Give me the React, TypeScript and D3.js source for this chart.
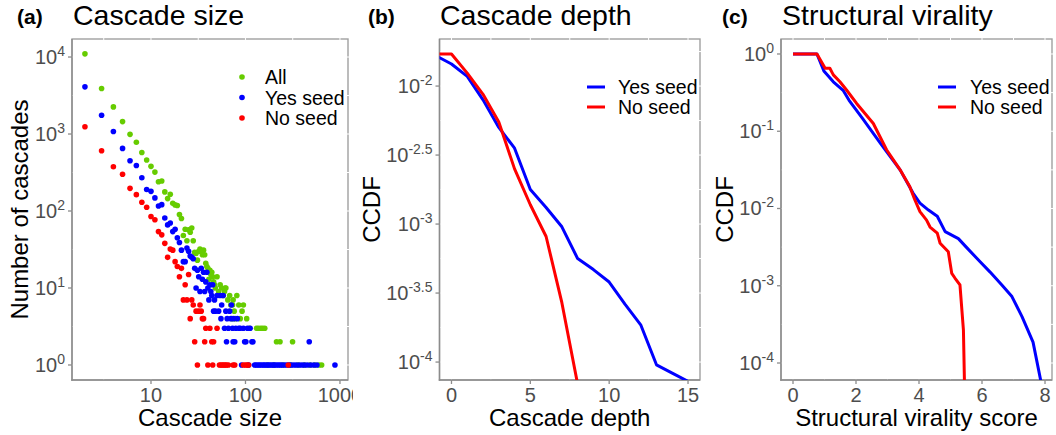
import React from "react";
import * as d3 from "d3";

// ---------- Panel (a): cascade size distribution ----------
const SIZE_ALL = [2,3,4,5,6,7,8,9,10,11,12,13,14,15,16,17,18,19,20,21,22,23,24,25,26,27,28,29,30,31,32,33,34,35,36,37,38,39,40,41,42,43,44,45,46,47,48,
  50,52,54,56,58,60,61,62,65,68,70,72,73,74,76,78,81,85,88,92,95,103,110,131,137,145,152,160,170,200,213,232,250,300,315,360,420,480,540,600,640];
const COUNT_ALL = [11000,3900,2250,1450,990,780,575,460,380,320,240,245,177,145,165,126,120,118,90,80,48,58,41,57,53,60,41,29,28,23,30,32,30,27,31,27,21,19,18,13,17,15,16,14,12,11,10,
  14,9,11,10,8,9,10,10,7,8,6,4,6,7,5,4,8,6,4,5,6,4,3,3,3,3,3,3,1,1,2,2,1,1,2,1,1,1,1,1,1];

const SIZE_YES = [2,3,4,5,6,7,8,9,10,11,12,13,14,15,16,17,18,19,20,21,22,23,24,25,26,27,28,29,30,31,32,33,34,35,36,37,38,39,40,41,42,43,44,45,46,47,48,
  50,52,54,55,56,58,60,62,63,64,66,68,70,71,73,74,75,77,79,82,85,88,91,95,98,101,105,108,112,117,120,
  125,130,136,142,148,155,160,168,175,182,190,198,205,215,225,235,245,260,275,290,305,325,345,370,395,420,450,473,490,530,570,885];
const COUNT_YES = [4100,1750,1080,650,450,390,270,190,180,148,116,121,81,66,70,54,58,45,39,31,22,22,33,30,26,25,24,18,10,17,14,9,18,13,16,9,12,16,10,7,11,9,8,11,5,7,5,
  8,5,8,4,6,8,3,5,2,4,3,5,4,6,3,2,4,2,3,4,3,3,1,3,2,2,3,1,3,2,2,
  1,1,1,1,1,1,1,1,1,1,1,1,1,1,1,1,1,1,1,1,1,1,1,1,1,1,1,2,1,1,1,1];

const SIZE_NO = [2,3,4,5,6,7,8,9,10,11,12,13,14,15,16,17,18,19,20,21,22,23,24,25,26,27,28,29,30,31,32,33,34,35,36,37,38,40,42,44,45,46,50,53,55,57,59,61,63,66,74,77,95,100,104,108,284];
const COUNT_NO = [1240,605,375,300,197,163,130,112,85,77,54,49,38,25,32,31,22,19,14,18,7,11,7,15,4,7,6,2,5,1,5,6,5,4,4,2,3,1,3,2,1,2,3,1,1,1,1,1,1,1,1,1,1,1,1,1,1];

// ---------- Panel (b): cascade depth CCDF (log10 values) ----------
const DEPTH_YES = [-1,0,1,2,3,4,5,6,7,8,9,10,11,12,13,14,15];
const DEPTH_YES_LOG = [-1.78,-1.84,-1.93,-2.1,-2.3,-2.45,-2.75,-2.88,-3.02,-3.25,-3.33,-3.42,-3.58,-3.73,-4.02,-4.08,-4.14];
const DEPTH_NO = [-1,0,1,2,3,4,5,6,7,8];
const DEPTH_NO_LOG = [-1.768,-1.768,-1.906,-2.06,-2.26,-2.6,-2.86,-3.09,-3.57,-4.16];

// ---------- Panel (c): structural virality CCDF (log10 values) ----------
const SV_YES = [0,0.76,0.98,1.28,1.59,1.78,2.2,2.8,3.4,3.81,4.03,4.3,4.58,4.83,5.25,5.5,5.94,6.25,6.63,6.95,7.27,7.62,7.9];
const SV_YES_LOG = [0,0,-0.22,-0.36,-0.47,-0.6,-0.83,-1.17,-1.5,-1.8,-1.93,-2.02,-2.1,-2.3,-2.39,-2.5,-2.69,-2.82,-2.99,-3.14,-3.4,-3.73,-4.3];
const SV_NO = [0,0.76,1.02,1.17,1.28,1.49,1.7,2.02,2.55,2.97,3.4,3.71,3.87,4.03,4.24,4.35,4.58,4.67,4.93,5.04,5.14,5.3,5.41,5.45];
const SV_NO_LOG = [0,0,-0.185,-0.185,-0.27,-0.36,-0.466,-0.64,-0.9,-1.24,-1.5,-1.72,-1.89,-2.04,-2.15,-2.24,-2.32,-2.45,-2.56,-2.84,-2.9,-2.99,-3.57,-4.4];

// ---------- Axis ticks ----------
const A_X_TICKS = [10, 100, 1000];
const A_X_MINOR = [Math.pow(10, 0.5), Math.pow(10, 1.5), Math.pow(10, 2.5)];
const A_Y_EXP = [0, 1, 2, 3, 4];
const A_Y_MINOR_EXP = [0.5, 1.5, 2.5, 3.5];
const B_X_TICKS = [0, 5, 10, 15];
const B_X_MINOR = [2.5, 7.5, 12.5];
const B_Y_EXP = [-2, -2.5, -3, -3.5, -4];
const B_Y_MINOR_EXP = [-1.75, -2.25, -2.75, -3.25, -3.75];
const C_X_TICKS = [0, 2, 4, 6, 8];
const C_X_MINOR = [1, 3, 5, 7];
const C_Y_EXP = [0, -1, -2, -3, -4];
const C_Y_MINOR_EXP = [-0.5, -1.5, -2.5, -3.5];

const GREEN = "#66CC00";
const BLUE = "#0000FF";
const RED = "#FF0000";
const FONT = "'Liberation Sans', Arial, Helvetica, sans-serif";
const TICK_COL = "#4D4D4D";
const AXIS_COL = "#8C8C8C";
const BORDER_COL = "#A0A0A0";

const TOP = 39;
const BOTTOM = 380;

type PanelProps = {
  id: string;
  left: number;
  right: number;
  xScale: (v: number) => number;
  yScale: (v: number) => number;
  xTicks: number[];
  xTickLabels: string[];
  xMinor: number[];
  yExp: number[];
  yMinorExp: number[];
  tag: string;
  title: string;
  titleX: number;
  tagX: number;
  xLabel: string;
  yLabel: string;
  yLabelX: number;
  children?: React.ReactNode;
};

function Panel(p: PanelProps) {
  const { left, right } = p;
  const cx = (left + right) / 2;
  const cy = (TOP + BOTTOM) / 2;
  return (
    <g>
      <defs>
        <clipPath id={p.id + "-clip"}>
          <rect x={left} y={TOP} width={right - left} height={BOTTOM - TOP} />
        </clipPath>
      </defs>
      <rect x={left} y={TOP} width={right - left} height={BOTTOM - TOP} fill="none" stroke={BORDER_COL} strokeWidth={1.4} />
      {p.xTicks.concat(p.xMinor).map((v, i) => (
        <line key={"gx" + i} x1={p.xScale(v)} x2={p.xScale(v)} y1={TOP - 1} y2={BOTTOM} stroke="#fff" strokeWidth={1} />
      ))}
      {p.yExp.concat(p.yMinorExp).map((e, i) => (
        <line key={"gy" + i} x1={left} x2={right + 1} y1={p.yScale(Math.pow(10, e))} y2={p.yScale(Math.pow(10, e))} stroke="#fff" strokeWidth={1} />
      ))}
      <line x1={left} x2={left} y1={TOP} y2={BOTTOM + 0.7} stroke={AXIS_COL} strokeWidth={1.4} />
      <line x1={left - 0.7} x2={right} y1={BOTTOM} y2={BOTTOM} stroke={AXIS_COL} strokeWidth={1.4} />
      {p.xTicks.map((v, i) => (
        <g key={"xt" + i}>
          <line x1={p.xScale(v)} x2={p.xScale(v)} y1={BOTTOM} y2={BOTTOM + 4} stroke={AXIS_COL} strokeWidth={1.3} />
          <text x={p.xScale(v)} y={402} textAnchor="middle" fontSize={20} fill={TICK_COL} fontFamily={FONT}>
            {p.xTickLabels[i]}
          </text>
        </g>
      ))}
      {p.yExp.map((e, i) => {
        const y = p.yScale(Math.pow(10, e));
        return (
          <g key={"yt" + i}>
            <line x1={left - 4} x2={left} y1={y} y2={y} stroke={AXIS_COL} strokeWidth={1.3} />
            <text x={left - 7} y={y + 7} textAnchor="end" fontSize={20} fill={TICK_COL} fontFamily={FONT}>
              <tspan>10</tspan>
              <tspan dy={-8} fontSize={14}>{String(e)}</tspan>
            </text>
          </g>
        );
      })}
      <text x={p.tagX} y={24} fontSize={21} fontWeight="bold" fontFamily={FONT} fill="#000">{p.tag}</text>
      <text x={p.titleX} y={25} fontSize={28.5} fontFamily={FONT} fill="#000">{p.title}</text>
      <text x={cx} y={426} textAnchor="middle" fontSize={24} fontFamily={FONT} fill="#000">{p.xLabel}</text>
      <text transform={`translate(${p.yLabelX},${cy}) rotate(-90)`} textAnchor="middle" fontSize={24} fontFamily={FONT} fill="#000">
        {p.yLabel}
      </text>
      <g clipPath={`url(#${p.id}-clip)`}>{p.children}</g>
    </g>
  );
}

export default function App() {
  const ax = d3.scaleLog().domain([Math.pow(10, 0.164), Math.pow(10, 3.085)]).range([72, 348]);
  const ay = d3.scaleLog().domain([Math.pow(10, -0.195), Math.pow(10, 4.234)]).range([BOTTOM, TOP]);
  const bx = d3.scaleLinear().domain([-0.76, 15.76]).range([439.5, 700]);
  const by = d3.scaleLog().domain([Math.pow(10, -4.13), Math.pow(10, -1.659)]).range([BOTTOM, TOP]);
  const cxs = d3.scaleLinear().domain([-0.381, 8.222]).range([781, 1052]);
  const cys = d3.scaleLog().domain([Math.pow(10, -4.22), Math.pow(10, 0.194)]).range([BOTTOM, TOP]);

  const series = [
    { sizes: SIZE_ALL, counts: COUNT_ALL, color: GREEN, name: "All" },
    { sizes: SIZE_YES, counts: COUNT_YES, color: BLUE, name: "Yes seed" },
    { sizes: SIZE_NO, counts: COUNT_NO, color: RED, name: "No seed" },
  ];

  const lineB = d3.line<[number, number]>().x((d) => bx(d[0])).y((d) => by(Math.pow(10, d[1])));
  const lineC = d3.line<[number, number]>().x((d) => cxs(d[0])).y((d) => cys(Math.pow(10, d[1])));
  const zip = (a: number[], b: number[]) => a.map((v, i) => [v, b[i]] as [number, number]);

  const legendLines = [
    { name: "Yes seed", color: BLUE },
    { name: "No seed", color: RED },
  ];

  return (
    <svg width={1056} height={435} style={{ position: "absolute", left: 0, top: 0, background: "#fff" }} fontFamily={FONT}>
      <rect x={0} y={0} width={1056} height={435} fill="#fff" />
      <defs>
        <clipPath id="panelA-outer">
          <rect x={0} y={0} width={353} height={435} />
        </clipPath>
      </defs>
      <g clipPath="url(#panelA-outer)">
        <Panel
          id="pa" left={72} right={348} xScale={ax} yScale={ay}
          xTicks={A_X_TICKS} xTickLabels={A_X_TICKS.map(String)} xMinor={A_X_MINOR}
          yExp={A_Y_EXP} yMinorExp={A_Y_MINOR_EXP}
          tag="(a)" tagX={17} title="Cascade size" titleX={73}
          xLabel="Cascade size" yLabel="Number of cascades" yLabelX={28}
        >
          {series.map((s) => (
            <g key={s.name}>
              {s.sizes.map((v, i) => (
                <circle key={i} cx={ax(v)} cy={ay(s.counts[i])} r={2.8} fill={s.color} />
              ))}
            </g>
          ))}
        </Panel>
        {series.map((s, i) => (
          <g key={"lg" + i}>
            <circle cx={242} cy={77 + i * 20.5} r={2.8} fill={s.color} />
            <text x={265} y={77 + i * 20.5 + 7} fontSize={19.5} fontFamily={FONT} fill="#000">{s.name}</text>
          </g>
        ))}
      </g>

      <Panel
        id="pb" left={439.5} right={700} xScale={bx} yScale={by}
        xTicks={B_X_TICKS} xTickLabels={B_X_TICKS.map(String)} xMinor={B_X_MINOR}
        yExp={B_Y_EXP} yMinorExp={B_Y_MINOR_EXP}
        tag="(b)" tagX={368} title="Cascade depth" titleX={440}
        xLabel="Cascade depth" yLabel="CCDF" yLabelX={380}
      >
        <path d={lineB(zip(DEPTH_YES, DEPTH_YES_LOG)) || ""} fill="none" stroke={BLUE} strokeWidth={3} strokeLinejoin="round" />
        <path d={lineB(zip(DEPTH_NO, DEPTH_NO_LOG)) || ""} fill="none" stroke={RED} strokeWidth={3} strokeLinejoin="round" />
      </Panel>
      {legendLines.map((l, i) => (
        <g key={"lb" + i}>
          <line x1={587} x2={605} y1={87 + i * 20} y2={87 + i * 20} stroke={l.color} strokeWidth={3} />
          <text x={618} y={87 + i * 20 + 7} fontSize={19.5} fontFamily={FONT} fill="#000">{l.name}</text>
        </g>
      ))}

      <Panel
        id="pc" left={781} right={1052} xScale={cxs} yScale={cys}
        xTicks={C_X_TICKS} xTickLabels={C_X_TICKS.map(String)} xMinor={C_X_MINOR}
        yExp={C_Y_EXP} yMinorExp={C_Y_MINOR_EXP}
        tag="(c)" tagX={722} title="Structural virality" titleX={782}
        xLabel="Structural virality score" yLabel="CCDF" yLabelX={733}
      >
        <path d={lineC(zip(SV_YES, SV_YES_LOG)) || ""} fill="none" stroke={BLUE} strokeWidth={3} strokeLinejoin="round" />
        <path d={lineC(zip(SV_NO, SV_NO_LOG)) || ""} fill="none" stroke={RED} strokeWidth={3} strokeLinejoin="round" />
      </Panel>
      {legendLines.map((l, i) => (
        <g key={"lc" + i}>
          <line x1={938} x2={956} y1={87 + i * 20} y2={87 + i * 20} stroke={l.color} strokeWidth={3} />
          <text x={970} y={87 + i * 20 + 7} fontSize={19.5} fontFamily={FONT} fill="#000">{l.name}</text>
        </g>
      ))}
    </svg>
  );
}
